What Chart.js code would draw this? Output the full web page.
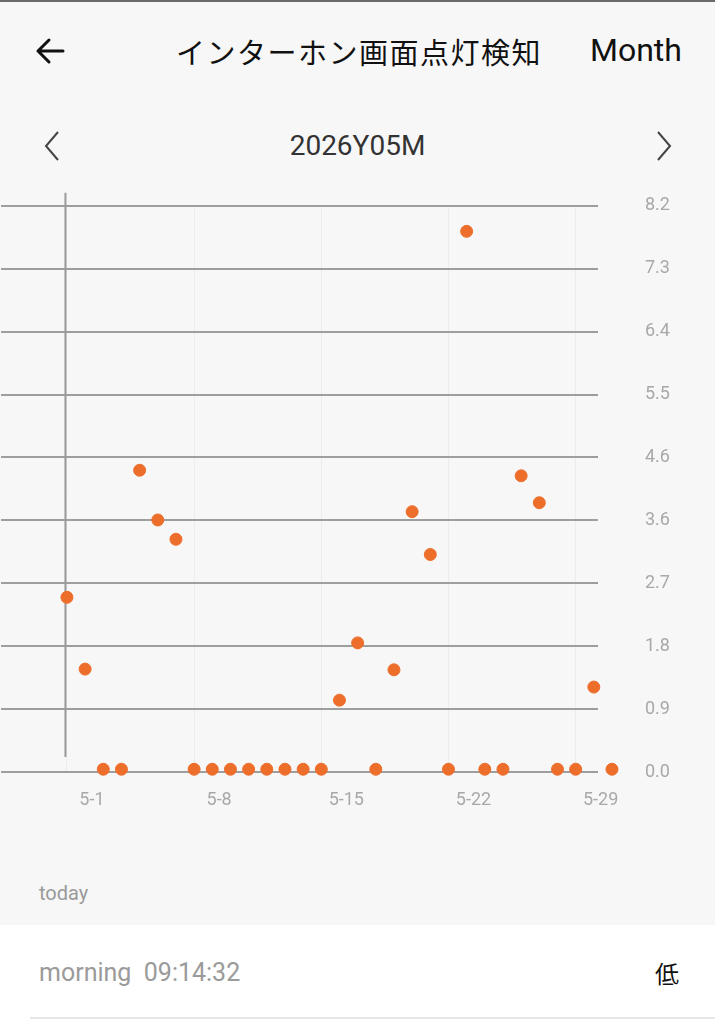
<!DOCTYPE html>
<html>
<head>
<meta charset="utf-8">
<script src="https://cdn.jsdelivr.net/npm/chart.js@4.4.1/dist/chart.umd.min.js"></script>
<style>
  html, body { margin: 0; padding: 0; }
  body {
    width: 715px; height: 1024px; overflow: hidden; position: relative;
    background: #f7f7f7; font-family: Roboto, "Noto Sans CJK JP", sans-serif;
  }
  .topline { position: absolute; left: 0; top: 0; width: 715px; height: 2px; background: #6a6a6a; }
  .abs { position: absolute; white-space: nowrap; }
  #title { left: 176px; top: 31px; font-size: 29px; letter-spacing: 1.5px; color: #111;
    font-family: "Noto Sans CJK JP", sans-serif; line-height: 40px; }
  #month { left: 590px; top: 30px; font-size: 32px; color: #111; line-height: 40px; }
  #period { left: 0; width: 715px; text-align: center; top: 128px; font-size: 28px; color: #333; line-height: 36px; }
  #chartBox { position: absolute; left: -6px; top: 148px; width: 721px; height: 682px; }
  #today { left: 39px; top: 880px; font-size: 20px; color: #9a9a9a; line-height: 26px; }
  .row { position: absolute; left: 0; top: 925px; width: 715px; height: 99px; background: #fff; }
  #time { left: 39px; top: 957px; font-size: 25px; color: #9a9a9a; line-height: 32px; }
  #level { left: 655px; top: 957px; font-size: 24px; color: #111; line-height: 32px;
    font-family: "Noto Sans CJK JP", sans-serif; }
  .divider { position: absolute; left: 30px; top: 1017px; width: 685px; height: 2px; background: #e6e6e6; }
</style>
</head>
<body>
<div class="topline"></div>
<svg class="abs" style="left:34px;top:36px" width="32" height="30" viewBox="0 0 32 30">
  <path d="M29 15 H4 M15 4 L4 15 L15 26" fill="none" stroke="#111" stroke-width="3" stroke-linecap="round" stroke-linejoin="round"/>
</svg>
<div id="title" class="abs">インターホン画面点灯検知</div>
<div id="month" class="abs">Month</div>
<svg class="abs" style="left:42px;top:130px" width="20" height="32" viewBox="0 0 20 32">
  <path d="M16 2 L4 16 L16 30" fill="none" stroke="#444" stroke-width="2"/>
</svg>
<div id="period" class="abs">2026Y05M</div>
<svg class="abs" style="left:654px;top:130px" width="20" height="32" viewBox="0 0 20 32">
  <path d="M4 2 L16 16 L4 30" fill="none" stroke="#444" stroke-width="2"/>
</svg>
<div id="chartBox"><canvas id="chart"></canvas></div>
<div id="today" class="abs">today</div>
<div class="row"></div>
<div id="time" class="abs">morning&nbsp;&nbsp;09:14:32</div>
<div id="level" class="abs">低</div>
<div class="divider"></div>
<script>
// day index 0 = 5-1
var days = [0, 1, 2, 3, 4, 5, 6, 7, 8, 9, 10, 11, 12, 13, 14, 15,
            16, 17, 18, 19, 20, 21, 22, 23, 24, 25, 26, 27, 28, 29, 30];
var values = [2.53, 1.49, 0.04, 0.04, 4.37, 3.65, 3.37, 0.04, 0.04, 0.04, 0.04, 0.04, 0.04, 0.04, 0.04, 1.04,
              1.87, 0.04, 1.48, 3.77, 3.15, 0.04, 7.83, 0.04, 0.04, 4.29, 3.90, 0.04, 0.04, 1.23, 0.04];
var tickDays = [0, 7, 14, 21, 28];
var tickLabels = ['5-1', '5-8', '5-15', '5-22', '5-29'];
var xView = [-3.63, 29.23];   // visible window, chart is scrolled
var yMax = 8.2;
var ySteps = 9;

var points = days.map(function (d, i) { return { x: d, y: values[i] }; });

// dark marker line at the first day
var markerLine = {
  id: 'markerLine',
  beforeDatasetsDraw: function (chart) {
    var ctx = chart.ctx, area = chart.chartArea;
    var x = chart.scales.x.getPixelForValue(days[0]) - 1.5;
    ctx.save();
    ctx.strokeStyle = '#9a9a9a';
    ctx.lineWidth = 2;
    ctx.beginPath();
    ctx.moveTo(x, area.top - 13);
    ctx.lineTo(x, area.bottom - 15);
    ctx.stroke();
    ctx.restore();
  }
};

// point elements skip themselves when outside the chart area; draw those too
var edgePoints = {
  id: 'edgePoints',
  afterDatasetsDraw: function (chart) {
    var area = chart.chartArea;
    chart.getDatasetMeta(0).data.forEach(function (el) {
      if (el.x > area.right + 6 || el.x < area.left - 6) el.draw(chart.ctx);
    });
  }
};

new Chart(document.getElementById('chart'), {
  type: 'scatter',
  data: {
    datasets: [{
      data: points,
      backgroundColor: '#ED6D2B',
      borderColor: '#ED6D2B',
      pointRadius: 6,
      pointHoverRadius: 6,
      clip: false
    }]
  },
  options: {
    responsive: true,
    maintainAspectRatio: false,
    animation: false,
    layout: { padding: { top: 25, left: 0, right: 0, bottom: 0 } },
    plugins: { legend: { display: false }, tooltip: { enabled: false } },
    scales: {
      x: {
        type: 'linear',
        bounds: 'data',
        afterDataLimits: function (scale) {
          scale.min = xView[0];
          scale.max = xView[1];
        },
        afterBuildTicks: function (scale) {
          scale.ticks = tickDays.map(function (v) { return { value: v }; });
        },
        afterFit: function (scale) { scale.height = 58; },
        ticks: {
          autoSkip: false,
          maxRotation: 0,
          padding: 18,
          labelOffset: 25,
          color: '#a8a8a8',
          font: { family: 'Roboto', size: 18 },
          callback: function (v) {
            var i = tickDays.indexOf(v);
            return i >= 0 ? tickLabels[i] : '';
          }
        },
        grid: { color: '#ececec', lineWidth: 1, drawTicks: false },
        border: { display: false }
      },
      y: {
        position: 'right',
        min: 0,
        max: yMax,
        afterBuildTicks: function (scale) {
          var t = [];
          for (var i = 0; i <= ySteps; i++) t.push({ value: yMax * i / ySteps });
          scale.ticks = t;
        },
        afterFit: function (scale) { scale.width = 117; },
        ticks: {
          padding: 47,
          color: '#a8a8a8',
          font: { family: 'Roboto', size: 18 },
          callback: function (v) { return v.toFixed(1); }
        },
        grid: { color: '#9e9e9e', lineWidth: 2, drawTicks: false },
        border: { display: false }
      }
    }
  },
  plugins: [markerLine, edgePoints]
});
</script>
</body>
</html>
